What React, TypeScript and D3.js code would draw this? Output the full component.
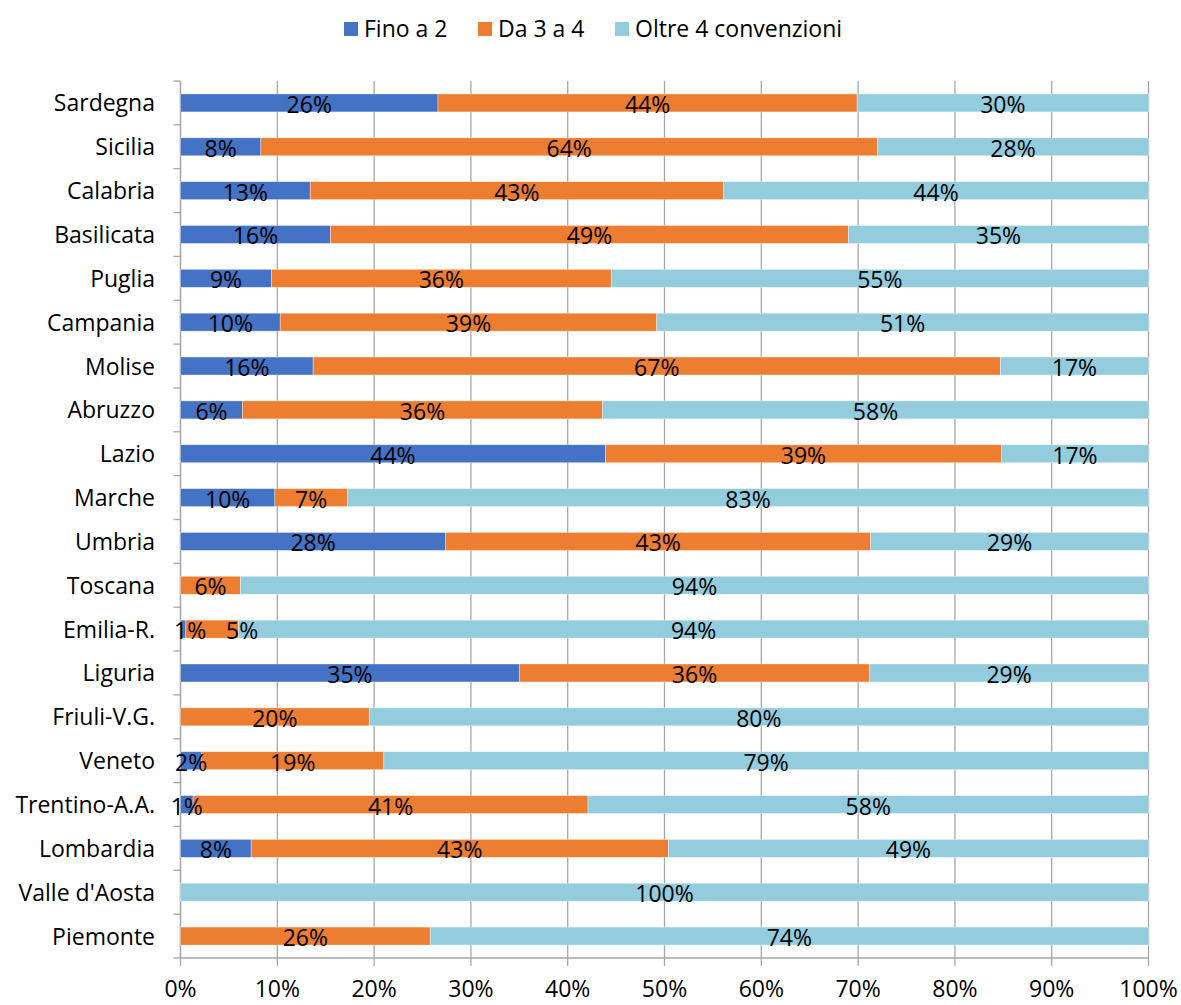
import React from "react";
import * as d3 from "d3";

const regions = [
  "Sardegna", "Sicilia", "Calabria", "Basilicata", "Puglia", "Campania", "Molise",
  "Abruzzo", "Lazio", "Marche", "Umbria", "Toscana", "Emilia-R.", "Liguria",
  "Friuli-V.G.", "Veneto", "Trentino-A.A.", "Lombardia", "Valle d'Aosta", "Piemonte",
];

const seriesNames = ["Fino a 2", "Da 3 a 4", "Oltre 4 convenzioni"];

// bar lengths (share, %)
const finoA2 = [26.6, 8.3, 13.4, 15.5, 9.4, 10.3, 13.7, 6.4, 43.9, 9.75, 27.4, 0, 0.55, 35.0, 0, 2.2, 1.3, 7.3, 0, 0];
const da3a4 = [43.3, 63.7, 42.7, 53.5, 35.1, 38.9, 71.0, 37.2, 40.9, 7.5, 43.9, 6.2, 5.45, 36.2, 19.5, 18.8, 40.8, 43.1, 0, 25.8];
const oltre4 = [30.1, 28.0, 43.9, 31.0, 55.5, 50.8, 15.3, 56.4, 15.2, 82.75, 28.7, 93.8, 94.0, 28.8, 80.5, 79.0, 57.9, 49.6, 100, 74.2];

// data labels as printed
const labFinoA2 = [26, 8, 13, 16, 9, 10, 16, 6, 44, 10, 28, 0, 1, 35, 0, 2, 1, 8, 0, 0];
const labDa3a4 = [44, 64, 43, 49, 36, 39, 67, 36, 39, 7, 43, 6, 5, 36, 20, 19, 41, 43, 0, 26];
const labOltre4 = [30, 28, 44, 35, 55, 51, 17, 58, 17, 83, 29, 94, 94, 29, 80, 79, 58, 49, 100, 74];

const xTicks = [0, 10, 20, 30, 40, 50, 60, 70, 80, 90, 100];

const colors = ["#4472C4", "#ED7D31", "#93CDDD"];
const FONT = "'Open Sans', sans-serif";

// manually moved data labels (layout, px) as in the source chart
const labelNudge: Record<string, number[]> = { "Emilia-R.": [7, 30, 0] };

export default function App() {
  const W = 1181, H = 1005;
  const left = 180.5, right = 1148.5, top = 81, bottom = 958;
  const x = d3.scaleLinear().domain([0, 100]).range([left, right]);
  const y = d3.scaleBand().domain(regions).range([top, bottom]).paddingInner(0.59).paddingOuter(0.295);
  const vals = [finoA2, da3a4, oltre4];
  const labs = [labFinoA2, labDa3a4, labOltre4];
  const stacked = regions.map((r, i) => {
    let acc = 0;
    return vals.map((v, s) => {
      const x0 = acc;
      acc += v[i];
      return { s, x0, x1: acc, lab: labs[s][i] };
    });
  });
  const step = (bottom - top) / regions.length;
  const boundaries = d3.range(regions.length + 1).map((k) => top + k * step);
  const legendX = [344, 478, 615];

  return (
    <svg width={W} height={H} style={{ display: "block", position: "absolute", left: 0, top: 0 }} fontFamily={FONT}>
      <rect width={W} height={H} fill="white" />
      {/* gridlines */}
      {xTicks.map((t) => (
        <line key={"g" + t} x1={x(t)} x2={x(t)} y1={top} y2={bottom + 8} stroke="#A6A6A6" strokeWidth={1.3} />
      ))}
      {/* left axis */}
      <line x1={left} x2={left} y1={top} y2={bottom} stroke="#A6A6A6" strokeWidth={1.3} />
      {boundaries.map((b, k) => (
        <line key={"t" + k} x1={left - 7} x2={left} y1={b} y2={b} stroke="#A6A6A6" strokeWidth={1.3} />
      ))}
      <line x1={left} x2={right} y1={bottom} y2={bottom} stroke="#A6A6A6" strokeWidth={1.3} />
      {/* bars */}
      {regions.map((r, i) =>
        stacked[i].map((seg) =>
          seg.x1 - seg.x0 > 0 ? (
            <rect
              key={r + seg.s}
              x={x(seg.x0)}
              y={y(r)}
              width={x(seg.x1) - x(seg.x0)}
              height={y.bandwidth()}
              fill={colors[seg.s]}
              stroke="white"
              strokeOpacity={0.5}
              strokeWidth={0.7}
            />
          ) : null
        )
      )}
      {/* labels */}
      {regions.map((r, i) =>
        stacked[i].map((seg) =>
          seg.lab > 0 ? (
            <text
              key={"l" + r + seg.s}
              x={(x(seg.x0) + x(seg.x1)) / 2 + (labelNudge[r] ? labelNudge[r][seg.s] : 0)}
              y={(y(r) as number) + y.bandwidth() / 2 + 10}
              textAnchor="middle"
              fontSize={23}
              fill="#000"
            >
              {seg.lab}%
            </text>
          ) : null
        )
      )}
      {/* category labels */}
      {regions.map((r) => (
        <text key={"c" + r} x={155} y={(y(r) as number) + y.bandwidth() / 2 + 8.5} textAnchor="end" fontSize={23} fill="#000">
          {r}
        </text>
      ))}
      {/* x tick labels */}
      {xTicks.map((t) => (
        <text key={"x" + t} x={x(t)} y={997} textAnchor="middle" fontSize={23} fill="#000">
          {t}%
        </text>
      ))}
      {/* legend */}
      {seriesNames.map((n, s) => (
        <g key={n}>
          <rect x={legendX[s]} y={22} width={14} height={14} fill={colors[s]} />
          <text x={legendX[s] + 20} y={37} fontSize={23} fill="#000">
            {n}
          </text>
        </g>
      ))}
    </svg>
  );
}
